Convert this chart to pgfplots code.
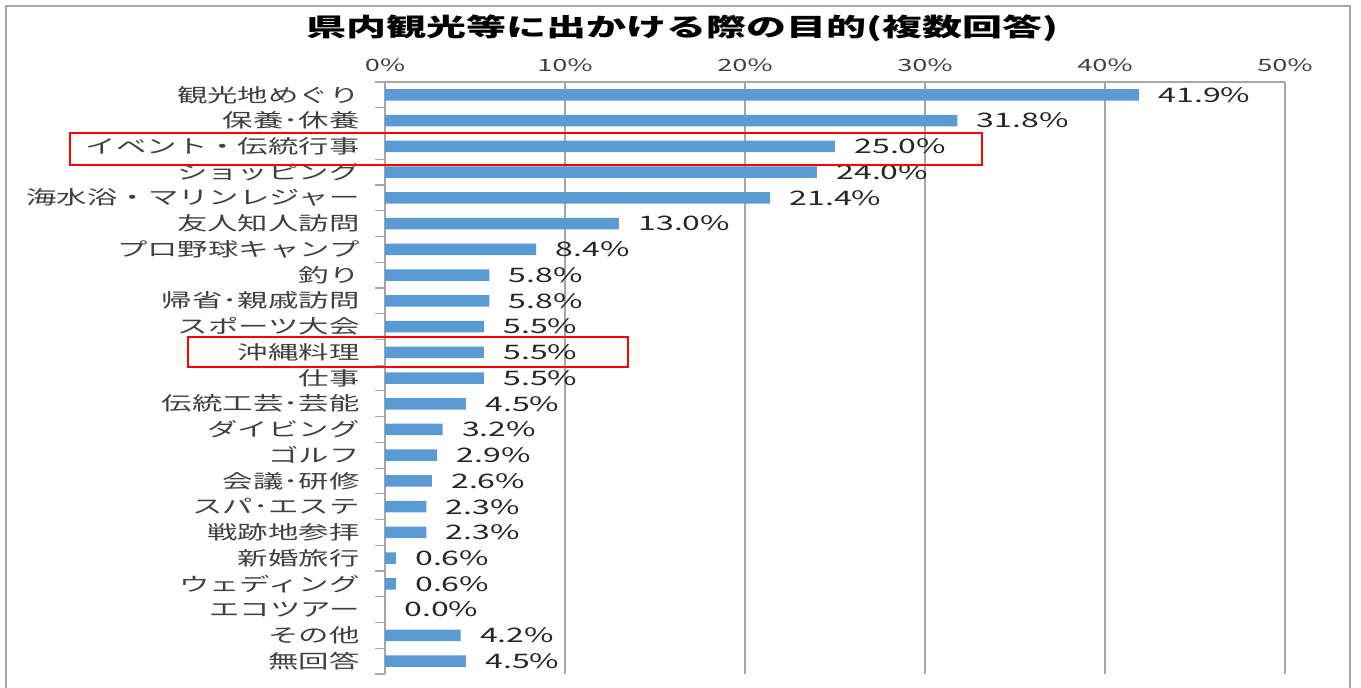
\documentclass[border=0pt]{standalone}
\usepackage{fontspec}
\setmainfont{Noto Sans CJK JP}[FakeStretch=1.6]
\usepackage{pgfplots}
\pgfplotsset{compat=1.18}
\definecolor{barblue}{HTML}{5B9BD5}
\definecolor{gridgray}{HTML}{A6A6A6}
\definecolor{labgray}{HTML}{404040}
\begin{document}
\begin{tikzpicture}
\begin{scope}[x=1pt,y=-1pt]
\useasboundingbox (0,0) rectangle (1361,688);
\draw[gridgray, line width=1.5pt] (6,700) -- (6,6) -- (1350,6) -- (1350,700);
\node[font=\bfseries\fontsize{25}{27}\selectfont] at (682,28) {県内観光等に出かける際の目的(複数回答)};
\end{scope}
\begin{axis}[
    at={(385pt,-674pt)}, anchor=south west,
    scale only axis,
    width=900pt, height=592pt,
    xbar, bar width=11.5pt,
    xmin=0, xmax=50,
    ymin=-0.5, ymax=22.5,
    y dir=reverse,
    axis x line=top, axis y line=left,
    axis line style={-, gridgray, line width=1.5pt},
    xtick={0,10,20,30,40,50},
    xticklabels={0\%,10\%,20\%,30\%,40\%,50\%},
    xticklabel style={font=\fontsize{17}{19}\selectfont, text=labgray, yshift=7pt},
    xmajorgrids, grid style={gridgray, line width=1.5pt},
    ytick={0,...,22},
    yticklabels={観光地めぐり,保養･休養,イベント・伝統行事,ショッピング,海水浴・マリンレジャー,友人知人訪問,プロ野球キャンプ,釣り,帰省･親戚訪問,スポーツ大会,沖縄料理,仕事,伝統工芸･芸能,ダイビング,ゴルフ,会議･研修,スパ･エステ,戦跡地参拝,新婚旅行,ウェディング,エコツアー,その他,無回答},
    yticklabel style={font=\fontsize{19}{21}\selectfont, text=labgray, xshift=-22pt},
    minor ytick={-0.5,0.5,...,22.5},
    major tick length=0pt, minor tick length=10pt,
    tick align=outside,
    tick style={gridgray, line width=1.2pt},
    point meta=x,
    nodes near coords={\pgfmathprintnumber[fixed,fixed zerofill,precision=1,assume math mode=true]{\pgfplotspointmeta}\%},
    nodes near coords align={horizontal},
    every node near coord/.append style={font=\fontsize{20}{22}\selectfont, text=black!85, anchor=west, xshift=16pt},
]
\addplot[fill=barblue, draw=none] coordinates {
(41.9,0) (31.8,1) (25.0,2) (24.0,3) (21.4,4) (13.0,5) (8.4,6) (5.8,7)
(5.8,8) (5.5,9) (5.5,10) (5.5,11) (4.5,12) (3.2,13) (2.9,14) (2.6,15)
(2.3,16) (2.3,17) (0.6,18) (0.6,19) (0.0,20) (4.2,21) (4.5,22)
};
\end{axis}
\begin{scope}[x=1pt,y=-1pt]
\draw[red, line width=1.5pt] (70,133) rectangle (982,165);
\draw[red, line width=1.5pt] (188,337) rectangle (628,367);
\end{scope}
\end{tikzpicture}
\end{document}
